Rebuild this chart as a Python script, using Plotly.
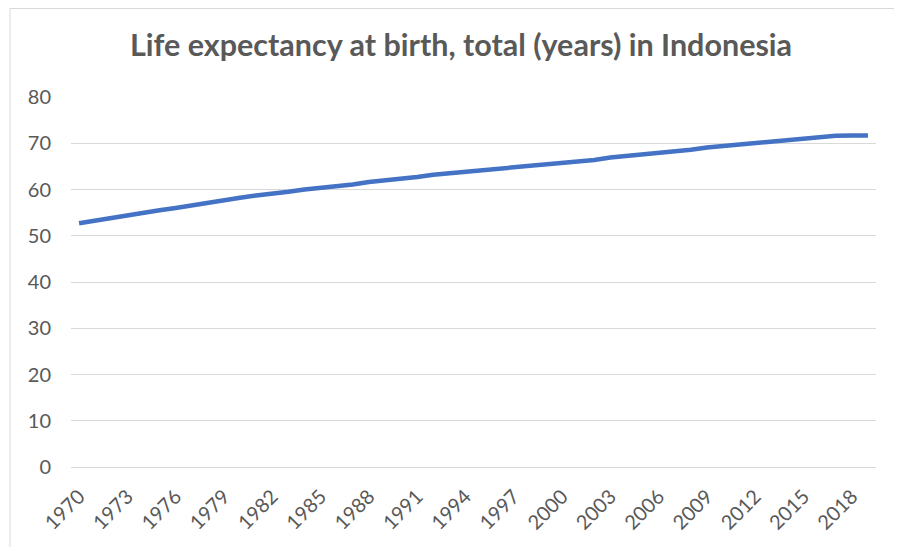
import plotly.graph_objects as go

years = list(range(1970, 2020))
life_expectancy = [
    52.7, 53.3, 53.8, 54.4, 54.9, 55.5, 56.0, 56.6, 57.1, 57.7,
    58.2, 58.7, 59.0, 59.5, 60.0, 60.3, 60.8, 61.1, 61.6, 61.9,
    62.4, 62.7, 63.2, 63.5, 64.0, 64.3, 64.6, 64.9, 65.2, 65.5,
    65.8, 66.1, 66.4, 66.9, 67.2, 67.5, 68.0, 68.3, 68.6, 69.1,
    69.4, 69.7, 70.0, 70.5, 70.8, 71.1, 71.4, 71.6, 71.7, 71.7,
]
tick_years = list(range(1970, 2020, 3))
tick_labels = [str(y) for y in tick_years]
y_ticks = list(range(0, 81, 10))

FONT = "Lato"
GRAY = "#595959"

# page is offset by the 8px default body margin
OFF = 8
W, H = 902, 547
ml, mt = 71 - OFF, 97 - OFF
pw, ph = 805, 370
mr = W - ml - pw
mb = H - mt - ph

fig = go.Figure()
fig.add_trace(go.Scatter(
    x=years, y=life_expectancy, mode="lines",
    line=dict(color="#4472C4", width=4.5),
    hoverinfo="x+y",
))

def px_to_paper_x(px):
    return (px - OFF - ml) / pw

def px_to_paper_y(py):
    return (mt + ph - (py - OFF)) / ph

fig.update_layout(
    width=W, height=H,
    margin=dict(l=ml, r=mr, t=mt, b=mb),
    paper_bgcolor="white", plot_bgcolor="white",
    showlegend=False,
    title=dict(
        text="<b>Life expectancy at birth, total (years) in Indonesia</b>",
        x=(461 - OFF) / W, xanchor="center", y=1 - (45 - OFF) / H, yanchor="middle",
        font=dict(family=FONT, size=30.5, color=GRAY),
    ),
    font=dict(family=FONT, color=GRAY),
    xaxis=dict(
        range=[1969.5, 2019.5],
        tickmode="array", tickvals=tick_years, ticktext=tick_labels,
        tickangle=-45, tickfont=dict(size=20, color=GRAY),
        showgrid=False, zeroline=False, showline=True,
        linecolor="#D9D9D9", linewidth=1, ticks="",
        ticklabelstandoff=9,
    ),
    yaxis=dict(
        range=[0, 80], tickmode="array", tickvals=y_ticks,
        tickfont=dict(size=20, color=GRAY),
        showgrid=True, gridcolor="#D9D9D9", gridwidth=1,
        zeroline=False, showline=False, ticks="",
        ticklabelstandoff=19,
    ),
    shapes=[dict(
        type="rect", xref="paper", yref="paper",
        x0=px_to_paper_x(10), x1=px_to_paper_x(W + 20),
        y0=px_to_paper_y(H + 20), y1=px_to_paper_y(OFF + 0.5),
        line=dict(color="#D9D9D9", width=1), fillcolor="rgba(0,0,0,0)",
        layer="below",
    )],
)

fig.write_html("out.html")
